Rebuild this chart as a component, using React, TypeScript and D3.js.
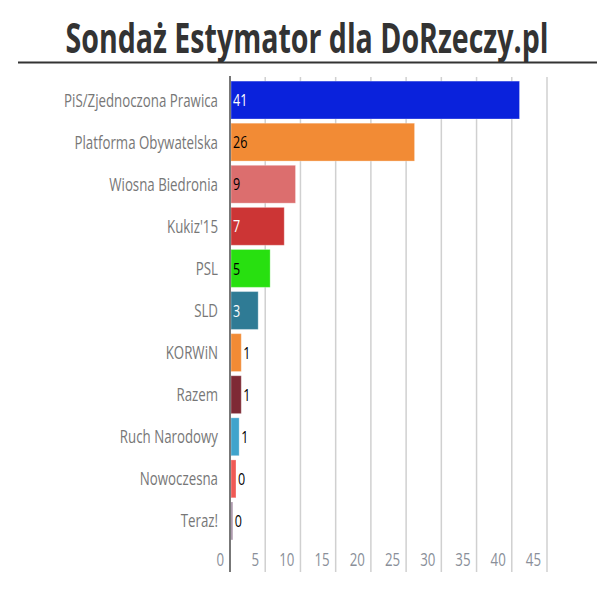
import { useEffect, useRef } from 'react'
import * as d3 from 'd3'

const PARTIES = [
  'PiS/Zjednoczona Prawica', 'Platforma Obywatelska', 'Wiosna Biedronia', "Kukiz'15", 'PSL',
  'SLD', 'KORWiN', 'Razem', 'Ruch Narodowy', 'Nowoczesna', 'Teraz!',
]
const VALUES = [41.1, 26.2, 9.3, 7.7, 5.7, 4.0, 1.6, 1.6, 1.3, 0.85, 0.4]
const LABELS = ['41', '26', '9', '7', '5', '3', '1', '1', '1', '0', '0']
const COLORS = [
  '#0a22dc', '#f28b35', '#dc6e6e', '#cc3535', '#28e010',
  '#2f7b95', '#f28b35', '#7e2a35', '#40a4cc', '#f05a55', '#a08aa0',
]
const LABEL_COLORS = ['#fff', '#000', '#000', '#fff', '#000', '#fff', '#000', '#000', '#000', '#000', '#000']
const TICKS = [0, 5, 10, 15, 20, 25, 30, 35, 40, 45]
const TITLE = 'Sondaż Estymator dla DoRzeczy.pl'

// no narrow font installed, so squeeze a regular one horizontally
const FONT = "'Open Sans', 'Noto Sans', sans-serif"

export default function App() {
  const svgRef = useRef<SVGSVGElement>(null)

  useEffect(() => {
    if (!svgRef.current) return
    const svg = d3.select(svgRef.current)
    svg.selectAll('*').remove()

    // measure how much to squeeze
    const probe = svg.append('text')
      .attr('font-family', FONT).attr('font-size', '18px')
      .text(PARTIES[0])
    const sx = 154 / ((probe.node() as SVGTextElement).getComputedTextLength() || 190)
    probe.remove()
    const probeT = svg.append('text')
      .attr('font-family', FONT).attr('font-size', '41px').attr('font-weight', 'bold')
      .text(TITLE)
    const sxT = 483 / ((probeT.node() as SVGTextElement).getComputedTextLength() || 600)
    probeT.remove()

    const at = (px: number, py: number, s = sx) => `translate(${px},${py}) scale(${s},1)`

    // Title + rule
    svg.append('text')
      .attr('transform', at(307, 53, sxT))
      .attr('text-anchor', 'middle')
      .attr('font-family', FONT).attr('font-weight', 'bold')
      .attr('font-size', '41px').attr('fill', '#333')
      .text(TITLE)
    svg.append('line')
      .attr('x1', 18).attr('x2', 597).attr('y1', 62.5).attr('y2', 62.5)
      .attr('stroke', '#333').attr('stroke-width', 2)

    const x = d3.scaleLinear().domain([0, 45]).range([230, 547])
    const y = d3.scaleBand<string>().domain(PARTIES).range([79, 542])
      .paddingInner(0.1).paddingOuter(0.05)

    // Grid
    svg.append('g').selectAll('line')
      .data(TICKS.slice(1))
      .enter().append('line')
      .attr('x1', d => x(d)).attr('x2', d => x(d))
      .attr('y1', 77).attr('y2', 572)
      .attr('stroke', '#d0d0d0').attr('stroke-width', 1.5)

    // Tick labels
    svg.append('g').selectAll('text')
      .data(TICKS)
      .enter().append('text')
      .attr('transform', d => at(x(d) - 6, 566))
      .attr('text-anchor', 'end')
      .attr('font-family', FONT).attr('font-size', '18px').attr('fill', '#8a8f99')
      .text(d => String(d))

    // Bars
    svg.append('g').selectAll('rect')
      .data(VALUES)
      .enter().append('rect')
      .attr('x', x(0) + 1)
      .attr('y', (_, i) => y(PARTIES[i])!)
      .attr('width', d => x(d) - x(0) - 1)
      .attr('height', y.bandwidth())
      .attr('fill', (_, i) => COLORS[i])
      .attr('stroke', 'rgba(255,255,255,0.3)').attr('stroke-width', 1)

    // Value labels
    svg.append('g').selectAll('text')
      .data(VALUES)
      .enter().append('text')
      .attr('transform', (d, i) => at(d >= 3 ? x(0) + 3 : x(d) + 2, y(PARTIES[i])! + y.bandwidth() / 2))
      .attr('dy', '0.36em')
      .attr('font-family', FONT).attr('font-size', '17px')
      .attr('fill', (d, i) => (d >= 3 ? LABEL_COLORS[i] : '#000'))
      .text((_, i) => LABELS[i])

    // Category labels
    svg.append('g').selectAll('text')
      .data(PARTIES)
      .enter().append('text')
      .attr('transform', d => at(218, y(d)! + y.bandwidth() / 2))
      .attr('dy', '0.36em')
      .attr('text-anchor', 'end')
      .attr('font-family', FONT).attr('font-size', '18px').attr('fill', '#777')
      .text(d => d)

    // Axis line
    svg.append('line')
      .attr('x1', x(0)).attr('x2', x(0)).attr('y1', 76).attr('y2', 572)
      .attr('stroke', '#777').attr('stroke-width', 2)
  }, [])

  return (
    <div style={{ position: 'absolute', left: 0, top: 0, background: '#fff' }}>
      <svg ref={svgRef} width={607} height={589} style={{ display: 'block' }} />
    </div>
  )
}
